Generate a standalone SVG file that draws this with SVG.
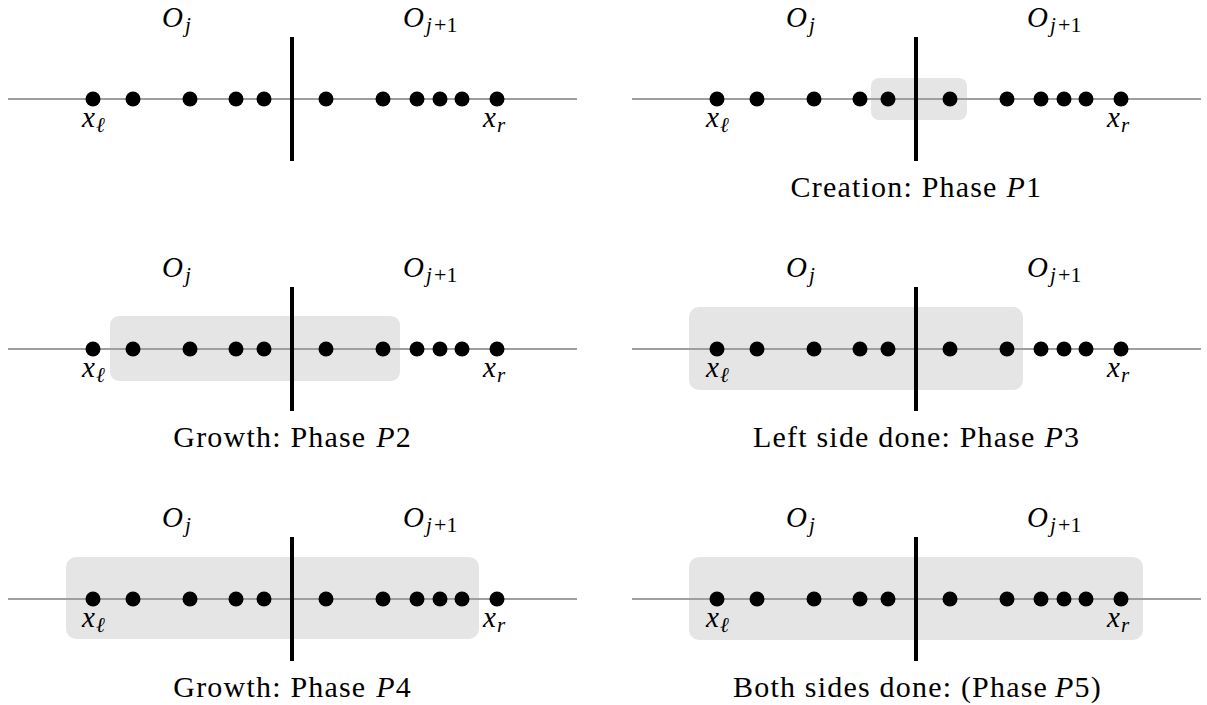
<svg xmlns="http://www.w3.org/2000/svg" width="1207" height="705" viewBox="0 0 1207 705">
<rect width="1207" height="705" fill="#fff"/>

<g id="panel-top-left">
  <path stroke="#9f9f9f" stroke-width="2" fill="none" d="M8 99H577"/>
  <line stroke="#000" stroke-width="4" x1="292" y1="37" x2="292" y2="161"/>
  <g fill="#000"><circle cx="93" cy="99" r="7.5"/><circle cx="133" cy="99" r="7.5"/><circle cx="190" cy="99" r="7.5"/><circle cx="236" cy="99" r="7.5"/><circle cx="264" cy="99" r="7.5"/><circle cx="326" cy="99" r="7.5"/><circle cx="383" cy="99" r="7.5"/><circle cx="417" cy="99" r="7.5"/><circle cx="440" cy="99" r="7.5"/><circle cx="462" cy="99" r="7.5"/><circle cx="497" cy="99" r="7.5"/></g>
  <text font-family="Liberation Serif" font-style="italic" font-size="29" x="162" y="27">O</text>
  <text font-family="Liberation Serif" font-style="italic" font-size="21" x="185" y="32">j</text>
  <text font-family="Liberation Serif" font-style="italic" font-size="29" x="403" y="27">O</text>
  <text font-family="Liberation Serif" font-style="italic" font-size="21" x="426" y="32">j</text>
  <text font-family="Liberation Serif" font-size="22" x="434" y="32">+1</text>
  <text font-family="Liberation Serif" font-style="italic" font-size="29" x="82" y="127">x</text>
  <text font-family="Liberation Serif" font-style="italic" font-size="21" x="96" y="132">ℓ</text>
  <text font-family="Liberation Serif" font-style="italic" font-size="29" x="483" y="127">x</text>
  <text font-family="Liberation Serif" font-style="italic" font-size="21" x="497" y="132">r</text>
</g>

<g id="panel-top-right" transform="translate(624,0)">
  <rect fill="#e5e5e5" x="247" y="78" width="96" height="42" rx="8"/>
  <path stroke="#9f9f9f" stroke-width="2" fill="none" d="M8 99H577"/>
  <line stroke="#000" stroke-width="4" x1="292" y1="37" x2="292" y2="161"/>
  <g fill="#000"><circle cx="93" cy="99" r="7.5"/><circle cx="133" cy="99" r="7.5"/><circle cx="190" cy="99" r="7.5"/><circle cx="236" cy="99" r="7.5"/><circle cx="264" cy="99" r="7.5"/><circle cx="326" cy="99" r="7.5"/><circle cx="383" cy="99" r="7.5"/><circle cx="417" cy="99" r="7.5"/><circle cx="440" cy="99" r="7.5"/><circle cx="462" cy="99" r="7.5"/><circle cx="497" cy="99" r="7.5"/></g>
  <text font-family="Liberation Serif" font-style="italic" font-size="29" x="162" y="27">O</text>
  <text font-family="Liberation Serif" font-style="italic" font-size="21" x="185" y="32">j</text>
  <text font-family="Liberation Serif" font-style="italic" font-size="29" x="403" y="27">O</text>
  <text font-family="Liberation Serif" font-style="italic" font-size="21" x="426" y="32">j</text>
  <text font-family="Liberation Serif" font-size="22" x="434" y="32">+1</text>
  <text font-family="Liberation Serif" font-style="italic" font-size="29" x="82" y="127">x</text>
  <text font-family="Liberation Serif" font-style="italic" font-size="21" x="96" y="132">ℓ</text>
  <text font-family="Liberation Serif" font-style="italic" font-size="29" x="483" y="127">x</text>
  <text font-family="Liberation Serif" font-style="italic" font-size="21" x="497" y="132">r</text>
  <text font-family="Liberation Serif" font-size="30" letter-spacing="1.2" x="166.5" y="197">Creation: Phase</text>
  <text font-family="Liberation Serif" font-style="italic" font-size="30" x="382.4" y="197">P</text>
  <text font-family="Liberation Serif" font-size="30" x="401.9" y="197">1</text>
</g>

<g id="panel-middle-left" transform="translate(0,250)">
  <rect fill="#e5e5e5" x="110" y="66" width="290" height="65" rx="9"/>
  <path stroke="#9f9f9f" stroke-width="2" fill="none" d="M8 99H577"/>
  <line stroke="#000" stroke-width="4" x1="292" y1="37" x2="292" y2="161"/>
  <g fill="#000"><circle cx="93" cy="99" r="7.5"/><circle cx="133" cy="99" r="7.5"/><circle cx="190" cy="99" r="7.5"/><circle cx="236" cy="99" r="7.5"/><circle cx="264" cy="99" r="7.5"/><circle cx="326" cy="99" r="7.5"/><circle cx="383" cy="99" r="7.5"/><circle cx="417" cy="99" r="7.5"/><circle cx="440" cy="99" r="7.5"/><circle cx="462" cy="99" r="7.5"/><circle cx="497" cy="99" r="7.5"/></g>
  <text font-family="Liberation Serif" font-style="italic" font-size="29" x="162" y="27">O</text>
  <text font-family="Liberation Serif" font-style="italic" font-size="21" x="185" y="32">j</text>
  <text font-family="Liberation Serif" font-style="italic" font-size="29" x="403" y="27">O</text>
  <text font-family="Liberation Serif" font-style="italic" font-size="21" x="426" y="32">j</text>
  <text font-family="Liberation Serif" font-size="22" x="434" y="32">+1</text>
  <text font-family="Liberation Serif" font-style="italic" font-size="29" x="82" y="127">x</text>
  <text font-family="Liberation Serif" font-style="italic" font-size="21" x="96" y="132">ℓ</text>
  <text font-family="Liberation Serif" font-style="italic" font-size="29" x="483" y="127">x</text>
  <text font-family="Liberation Serif" font-style="italic" font-size="21" x="497" y="132">r</text>
  <text font-family="Liberation Serif" font-size="30" letter-spacing="1.2" x="173.3" y="197">Growth: Phase</text>
  <text font-family="Liberation Serif" font-style="italic" font-size="30" x="376.3" y="197">P</text>
  <text font-family="Liberation Serif" font-size="30" x="395.8" y="197">2</text>
</g>

<g id="panel-middle-right" transform="translate(624,250)">
  <rect fill="#e5e5e5" x="65" y="57" width="334" height="83" rx="10"/>
  <path stroke="#9f9f9f" stroke-width="2" fill="none" d="M8 99H577"/>
  <line stroke="#000" stroke-width="4" x1="292" y1="37" x2="292" y2="161"/>
  <g fill="#000"><circle cx="93" cy="99" r="7.5"/><circle cx="133" cy="99" r="7.5"/><circle cx="190" cy="99" r="7.5"/><circle cx="236" cy="99" r="7.5"/><circle cx="264" cy="99" r="7.5"/><circle cx="326" cy="99" r="7.5"/><circle cx="383" cy="99" r="7.5"/><circle cx="417" cy="99" r="7.5"/><circle cx="440" cy="99" r="7.5"/><circle cx="462" cy="99" r="7.5"/><circle cx="497" cy="99" r="7.5"/></g>
  <text font-family="Liberation Serif" font-style="italic" font-size="29" x="162" y="27">O</text>
  <text font-family="Liberation Serif" font-style="italic" font-size="21" x="185" y="32">j</text>
  <text font-family="Liberation Serif" font-style="italic" font-size="29" x="403" y="27">O</text>
  <text font-family="Liberation Serif" font-style="italic" font-size="21" x="426" y="32">j</text>
  <text font-family="Liberation Serif" font-size="22" x="434" y="32">+1</text>
  <text font-family="Liberation Serif" font-style="italic" font-size="29" x="82" y="127">x</text>
  <text font-family="Liberation Serif" font-style="italic" font-size="21" x="96" y="132">ℓ</text>
  <text font-family="Liberation Serif" font-style="italic" font-size="29" x="483" y="127">x</text>
  <text font-family="Liberation Serif" font-style="italic" font-size="21" x="497" y="132">r</text>
  <text font-family="Liberation Serif" font-size="30" letter-spacing="1.2" x="129" y="197">Left side done: Phase</text>
  <text font-family="Liberation Serif" font-style="italic" font-size="30" x="420.4" y="197">P</text>
  <text font-family="Liberation Serif" font-size="30" x="439.9" y="197">3</text>
</g>

<g id="panel-bottom-left" transform="translate(0,500)">
  <rect fill="#e5e5e5" x="66" y="57" width="413" height="82" rx="10"/>
  <path stroke="#9f9f9f" stroke-width="2" fill="none" d="M8 99H577"/>
  <line stroke="#000" stroke-width="4" x1="292" y1="37" x2="292" y2="161"/>
  <g fill="#000"><circle cx="93" cy="99" r="7.5"/><circle cx="133" cy="99" r="7.5"/><circle cx="190" cy="99" r="7.5"/><circle cx="236" cy="99" r="7.5"/><circle cx="264" cy="99" r="7.5"/><circle cx="326" cy="99" r="7.5"/><circle cx="383" cy="99" r="7.5"/><circle cx="417" cy="99" r="7.5"/><circle cx="440" cy="99" r="7.5"/><circle cx="462" cy="99" r="7.5"/><circle cx="497" cy="99" r="7.5"/></g>
  <text font-family="Liberation Serif" font-style="italic" font-size="29" x="162" y="27">O</text>
  <text font-family="Liberation Serif" font-style="italic" font-size="21" x="185" y="32">j</text>
  <text font-family="Liberation Serif" font-style="italic" font-size="29" x="403" y="27">O</text>
  <text font-family="Liberation Serif" font-style="italic" font-size="21" x="426" y="32">j</text>
  <text font-family="Liberation Serif" font-size="22" x="434" y="32">+1</text>
  <text font-family="Liberation Serif" font-style="italic" font-size="29" x="82" y="127">x</text>
  <text font-family="Liberation Serif" font-style="italic" font-size="21" x="96" y="132">ℓ</text>
  <text font-family="Liberation Serif" font-style="italic" font-size="29" x="483" y="127">x</text>
  <text font-family="Liberation Serif" font-style="italic" font-size="21" x="497" y="132">r</text>
  <text font-family="Liberation Serif" font-size="30" letter-spacing="1.2" x="173.3" y="197">Growth: Phase</text>
  <text font-family="Liberation Serif" font-style="italic" font-size="30" x="376.3" y="197">P</text>
  <text font-family="Liberation Serif" font-size="30" x="395.8" y="197">4</text>
</g>

<g id="panel-bottom-right" transform="translate(624,500)">
  <rect fill="#e5e5e5" x="65" y="57" width="454" height="83" rx="10"/>
  <path stroke="#9f9f9f" stroke-width="2" fill="none" d="M8 99H577"/>
  <line stroke="#000" stroke-width="4" x1="292" y1="37" x2="292" y2="161"/>
  <g fill="#000"><circle cx="93" cy="99" r="7.5"/><circle cx="133" cy="99" r="7.5"/><circle cx="190" cy="99" r="7.5"/><circle cx="236" cy="99" r="7.5"/><circle cx="264" cy="99" r="7.5"/><circle cx="326" cy="99" r="7.5"/><circle cx="383" cy="99" r="7.5"/><circle cx="417" cy="99" r="7.5"/><circle cx="440" cy="99" r="7.5"/><circle cx="462" cy="99" r="7.5"/><circle cx="497" cy="99" r="7.5"/></g>
  <text font-family="Liberation Serif" font-style="italic" font-size="29" x="162" y="27">O</text>
  <text font-family="Liberation Serif" font-style="italic" font-size="21" x="185" y="32">j</text>
  <text font-family="Liberation Serif" font-style="italic" font-size="29" x="403" y="27">O</text>
  <text font-family="Liberation Serif" font-style="italic" font-size="21" x="426" y="32">j</text>
  <text font-family="Liberation Serif" font-size="22" x="434" y="32">+1</text>
  <text font-family="Liberation Serif" font-style="italic" font-size="29" x="82" y="127">x</text>
  <text font-family="Liberation Serif" font-style="italic" font-size="21" x="96" y="132">ℓ</text>
  <text font-family="Liberation Serif" font-style="italic" font-size="29" x="483" y="127">x</text>
  <text font-family="Liberation Serif" font-style="italic" font-size="21" x="497" y="132">r</text>
  <text font-family="Liberation Serif" font-size="30" letter-spacing="1.2" x="109" y="197">Both sides done: (Phase</text>
  <text font-family="Liberation Serif" font-style="italic" font-size="30" x="431.1" y="197">P</text>
  <text font-family="Liberation Serif" font-size="30" letter-spacing="1.2" x="450.6" y="197">5)</text>
</g>
</svg>
